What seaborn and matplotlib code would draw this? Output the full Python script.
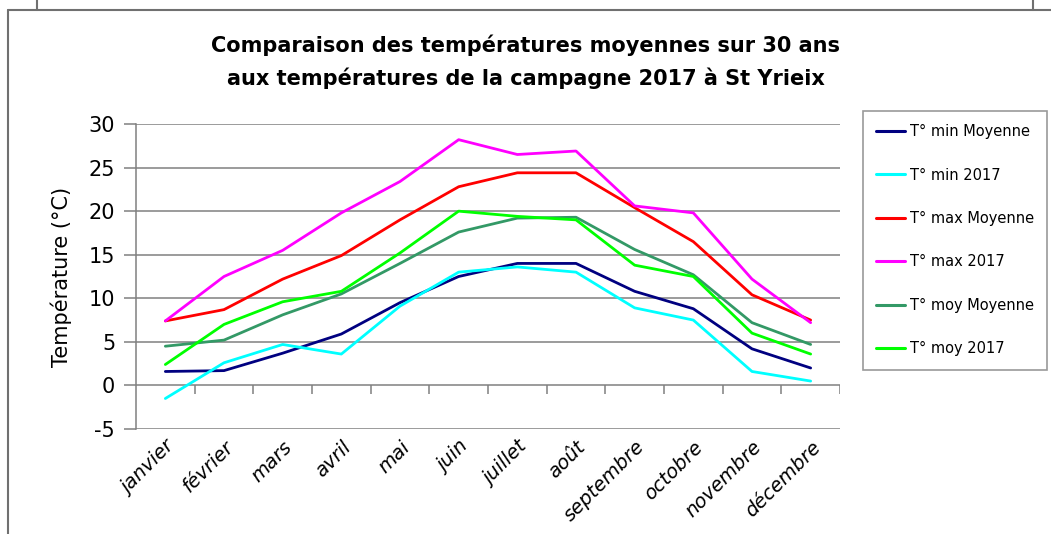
import numpy as np
import pandas as pd
import matplotlib
matplotlib.use('Agg')
import matplotlib.pyplot as plt
from matplotlib.lines import Line2D
import seaborn as sns

# ---------------------------------------------
# Données
# ---------------------------------------------
mois = ['janvier', 'février', 'mars', 'avril', 'mai', 'juin', 'juillet',
        'août', 'septembre', 'octobre', 'novembre', 'décembre']

tmin_moy = [1.6, 1.7, 3.7, 5.9, 9.5, 12.5, 14.0, 14.0, 10.8, 8.8, 4.2, 2.0]
tmin_2017 = [-1.5, 2.6, 4.7, 3.6, 9.1, 13.0, 13.6, 13.0, 8.9, 7.5, 1.6, 0.5]
tmax_moy = [7.4, 8.7, 12.2, 14.9, 19.0, 22.8, 24.4, 24.4, 20.4, 16.5, 10.4, 7.5]
tmax_2017 = [7.4, 12.5, 15.5, 19.8, 23.4, 28.2, 26.5, 26.9, 20.6, 19.8, 12.2, 7.2]
tmoy_moy = [4.5, 5.2, 8.1, 10.5, 14.0, 17.6, 19.2, 19.3, 15.6, 12.7, 7.2, 4.7]
tmoy_2017 = [2.4, 7.0, 9.6, 10.8, 15.2, 20.0, 19.4, 19.0, 13.8, 12.5, 6.0, 3.6]

series = ['T° min Moyenne', 'T° min 2017', 'T° max Moyenne',
          'T° max 2017', 'T° moy Moyenne', 'T° moy 2017']
couleurs = ['#000080', '#00FFFF', '#FF0000', '#FF00FF', '#339966', '#00FF00']

valeurs = [tmin_moy, tmin_2017, tmax_moy, tmax_2017, tmoy_moy, tmoy_2017]
df = pd.concat([
    pd.DataFrame({'mois': range(len(mois)), 'temp': v, 'serie': s})
    for s, v in zip(series, valeurs)
], ignore_index=True)

# ---------------------------------------------
# Style
# ---------------------------------------------
sns.set_theme(style='white')
plt.rcParams['font.family'] = ['DejaVu Sans']
plt.rcParams['text.color'] = 'black'
plt.rcParams['axes.labelcolor'] = 'black'
plt.rcParams['axes.unicode_minus'] = False

fig = plt.figure(figsize=(10.51, 5.34), dpi=100)
ax = fig.add_axes([136 / 1051, 1 - 429 / 534, (840 - 136) / 1051, (429 - 124) / 534])

sns.lineplot(data=df, x='mois', y='temp', hue='serie', hue_order=series,
             palette=dict(zip(series, couleurs)), linewidth=2.0, ax=ax,
             legend=False)

gris = '#808080'
ax.set_xlim(-0.5, len(mois) - 0.5)
ax.set_ylim(-5, 30)
ax.set_yticks(range(-5, 31, 5))
ax.yaxis.grid(True, color=gris, linewidth=1.1)
ax.set_axisbelow(True)
for s in ['top', 'right', 'bottom']:
    ax.spines[s].set_visible(False)
ax.spines['left'].set_color(gris)
ax.spines['left'].set_linewidth(1.1)
ax.tick_params(axis='y', direction='out', length=9, width=1.1, color=gris,
               labelcolor='black', labelsize=15, pad=6, left=True)

# axe des catégories sur la ligne 0 avec graduations entre les mois
ax.vlines(np.arange(0.5, len(mois)), -0.95, 0, color=gris, linewidth=1.1)

ax.set_xticks(range(len(mois)))
ax.set_xticklabels(mois, rotation=45, ha='right', rotation_mode='anchor',
                   fontsize=14, fontstyle='italic')
ax.tick_params(axis='x', length=0, pad=6, bottom=False, labelcolor='black')
ax.set_xlabel('')
ax.set_ylabel('Température (°C)', fontsize=15, labelpad=12)

fig.text(0.5, 1 - 45 / 534, 'Comparaison des températures moyennes sur 30 ans',
         ha='center', va='center', fontsize=15, fontweight='bold')
fig.text(0.5, 1 - 78 / 534, 'aux températures de la campagne 2017 à St Yrieix',
         ha='center', va='center', fontsize=15, fontweight='bold')

# Légende
handles = [Line2D([], [], color=c, linewidth=2.2) for c in couleurs]
leg = fig.legend(handles, series, loc='upper left',
                 bbox_to_anchor=(863 / 1051, 1 - 111 / 534),
                 bbox_transform=fig.transFigure, fontsize=10.5,
                 frameon=True, fancybox=False, borderpad=0.9,
                 labelspacing=1.95, handlelength=2.0, handletextpad=0.3,
                 borderaxespad=0)
leg.get_frame().set_edgecolor(gris)
leg.get_frame().set_linewidth(1.2)

# Cadre de la page
cadre = dict(color='#707070', linewidth=1.5, transform=fig.transFigure)
fig.add_artist(Line2D([7.5 / 1051, 1], [1 - 10 / 534, 1 - 10 / 534], **cadre))
fig.add_artist(Line2D([7.5 / 1051, 7.5 / 1051], [0, 1 - 10 / 534], **cadre))
fig.add_artist(Line2D([37 / 1051, 37 / 1051], [1 - 10 / 534, 1], **cadre))
fig.add_artist(Line2D([1032.5 / 1051, 1032.5 / 1051], [1 - 10 / 534, 1], **cadre))

fig.savefig('out.png', dpi=100)
